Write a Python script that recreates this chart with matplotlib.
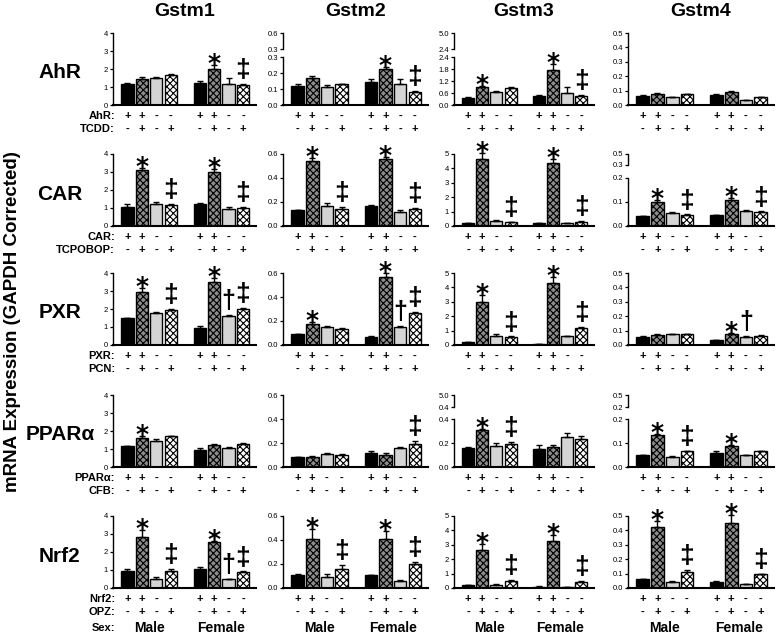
import matplotlib
matplotlib.use('Agg')
import matplotlib.pyplot as plt

plt.rcParams['font.family'] = ['Liberation Sans', 'DejaVu Sans']
plt.rcParams['hatch.linewidth'] = 0.8

genes = ['Gstm1', 'Gstm2', 'Gstm3', 'Gstm4']
receptors = ['AhR', 'CAR', 'PXR', 'PPARα', 'Nrf2']
drugs = ['TCDD:', 'TCPOBOP:', 'PCN:', 'CFB:', 'OPZ:']
receptor_signs = ['+', '+', '-', '-', '+', '+', '-', '-']
drug_signs = ['-', '+', '-', '+', '-', '+', '-', '+']
sexes = ['Male', 'Female']

# means, one list per gene (Male x4, Female x4)
ahr_mean = [[1.15, 1.45, 1.50, 1.65, 1.22, 2.02, 1.18, 1.10],
            [0.12, 0.17, 0.11, 0.13, 0.145, 0.225, 0.13, 0.08],
            [0.33, 0.90, 0.65, 0.85, 0.45, 1.75, 0.60, 0.45],
            [0.065, 0.078, 0.055, 0.073, 0.070, 0.088, 0.035, 0.055]]
ahr_err = [[0.05, 0.08, 0.08, 0.10, 0.10, 0.20, 0.33, 0.08],
           [0.012, 0.01, 0.012, 0.004, 0.015, 0.01, 0.033, 0.006],
           [0.05, 0.06, 0.04, 0.03, 0.05, 0.32, 0.30, 0.06],
           [0.002, 0.004, 0.004, 0.004, 0.003, 0.008, 0.003, 0.003]]
car_mean = [[1.08, 3.10, 1.20, 1.15, 1.25, 3.00, 0.95, 1.00],
            [0.13, 0.545, 0.17, 0.145, 0.165, 0.555, 0.12, 0.14],
            [0.18, 4.65, 0.38, 0.25, 0.22, 4.35, 0.18, 0.30],
            [0.040, 0.100, 0.055, 0.045, 0.045, 0.110, 0.063, 0.058]]
car_err = [[0.12, 0.15, 0.12, 0.08, 0.03, 0.18, 0.12, 0.06],
           [0.005, 0.02, 0.025, 0.013, 0.01, 0.022, 0.012, 0.01],
           [0.02, 0.45, 0.04, 0.04, 0.02, 0.30, 0.02, 0.04],
           [0.002, 0.008, 0.003, 0.003, 0.002, 0.008, 0.004, 0.003]]
pxr_mean = [[1.48, 2.95, 1.80, 1.95, 0.95, 3.48, 1.60, 2.00],
            [0.09, 0.175, 0.15, 0.13, 0.07, 0.57, 0.15, 0.27],
            [0.18, 3.00, 0.65, 0.55, 0.08, 4.30, 0.60, 1.20],
            [0.057, 0.070, 0.075, 0.075, 0.035, 0.077, 0.058, 0.065]]
pxr_err = [[0.03, 0.20, 0.03, 0.07, 0.10, 0.25, 0.08, 0.05],
           [0.005, 0.02, 0.008, 0.008, 0.005, 0.03, 0.01, 0.007],
           [0.02, 0.45, 0.12, 0.05, 0.01, 0.45, 0.03, 0.06],
           [0.003, 0.003, 0.002, 0.002, 0.003, 0.005, 0.005, 0.003]]
ppar_mean = [[1.15, 1.60, 1.45, 1.72, 0.97, 1.20, 1.08, 1.28],
             [0.08, 0.085, 0.11, 0.10, 0.115, 0.10, 0.155, 0.195],
             [0.16, 0.305, 0.175, 0.19, 0.15, 0.17, 0.25, 0.235],
             [0.048, 0.133, 0.042, 0.065, 0.060, 0.088, 0.050, 0.065]]
ppar_err = [[0.03, 0.10, 0.12, 0.02, 0.07, 0.10, 0.03, 0.08],
            [0.005, 0.004, 0.007, 0.012, 0.015, 0.015, 0.01, 0.02],
            [0.01, 0.012, 0.025, 0.02, 0.035, 0.015, 0.035, 0.025],
            [0.003, 0.005, 0.002, 0.003, 0.007, 0.005, 0.002, 0.002]]
nrf2_mean = [[0.97, 2.85, 0.52, 0.95, 1.05, 2.58, 0.48, 0.88],
             [0.11, 0.41, 0.095, 0.16, 0.105, 0.405, 0.06, 0.20],
             [0.18, 2.65, 0.20, 0.50, 0.10, 3.28, 0.05, 0.42],
             [0.060, 0.425, 0.043, 0.110, 0.045, 0.450, 0.028, 0.095]]
nrf2_err = [[0.10, 0.35, 0.08, 0.12, 0.10, 0.04, 0.03, 0.05],
            [0.01, 0.08, 0.018, 0.03, 0.005, 0.07, 0.003, 0.015],
            [0.02, 0.40, 0.05, 0.08, 0.01, 0.40, 0.01, 0.08],
            [0.003, 0.040, 0.007, 0.018, 0.003, 0.060, 0.003, 0.005]]

# significance marks: (bar index, symbol)
ahr_sig = [[(5, '*'), (7, '‡')], [(5, '*'), (7, '‡')],
           [(1, '*'), (5, '*'), (7, '‡')], []]
car_sig = [[(1, '*'), (3, '‡'), (5, '*'), (7, '‡')]] * 4
pxr_sig = [[(1, '*'), (3, '‡'), (5, '*'), (6, '†'), (7, '‡')],
           [(1, '*'), (5, '*'), (6, '†'), (7, '‡')],
           [(1, '*'), (3, '‡'), (5, '*'), (7, '‡')],
           [(5, '*'), (6, '†')]]
ppar_sig = [[(1, '*')], [(7, '‡')], [(1, '*'), (3, '‡')],
            [(1, '*'), (3, '‡'), (5, '*')]]
nrf2_sig = [[(1, '*'), (3, '‡'), (5, '*'), (6, '†'), (7, '‡')],
            [(1, '*'), (3, '‡'), (5, '*'), (7, '‡')],
            [(1, '*'), (3, '‡'), (5, '*'), (7, '‡')],
            [(1, '*'), (3, '‡'), (5, '*'), (7, '‡')]]

means = [ahr_mean, car_mean, pxr_mean, ppar_mean, nrf2_mean]
errs = [ahr_err, car_err, pxr_err, ppar_err, nrf2_err]
sigs = [ahr_sig, car_sig, pxr_sig, ppar_sig, nrf2_sig]

# y axes per gene
col_ylim = [4, 0.6, 5, 0.5]
col_ticks = [[0, 1, 2, 3, 4], [0, 0.2, 0.4, 0.6], [0, 1, 2, 3, 4, 5],
             [0, 0.1, 0.2, 0.3, 0.4, 0.5]]
col_fmt = ['%d', '%.1f', '%d', '%.1f']
# broken axes: (row, col) -> (lower ticks, upper labels, upper height px)
breaks = {(0, 1): ([0, 0.1, 0.2, 0.3], ['0.3', '0.6'], 16),
          (0, 2): ([0, 0.6, 1.2, 1.8, 2.4], ['2.4', '5.0'], 16),
          (1, 3): ([0, 0.1, 0.2], ['0.3', '0.5'], 11),
          (3, 2): ([0, 0.2, 0.4], ['0.4', '5.0'], 12),
          (3, 3): ([0, 0.1, 0.2], ['0.2', '0.5'], 12)}

W, H = 776, 634
fig = plt.figure(figsize=(W / 100, H / 100), dpi=100)

col_x = [113, 283, 454, 628]
col_w = [143, 145, 140, 146]
row_top = [33, 154, 273, 395, 516]
ax_h = 72
xpos = [0, 1, 2, 3, 5, 6, 7, 8]
bar_style = [dict(facecolor='black'),
             dict(facecolor='#8c8c8c', hatch='xxxxx'),
             dict(facecolor='#d4d4d4'),
             dict(facecolor='white', hatch='xxxxx')]


def add_ax(x0, top, w, h):
    return fig.add_axes([x0 / W, 1 - (top + h) / H, w / W, h / H])


def style_axis(ax):
    for s in ['top', 'right']:
        ax.spines[s].set_visible(False)
    ax.spines['left'].set_linewidth(1.0)
    ax.spines['bottom'].set_linewidth(1.5)
    ax.tick_params(axis='y', direction='out', length=2.5, width=0.9,
                   labelsize=5.5, pad=1)
    ax.set_xticks([])


def mark(ax, x, y, sym):
    if sym == '*':
        ax.annotate(sym, xy=(x, y), xytext=(0, 4 * 0.72 - 0.40 * 18),
                    textcoords='offset points', ha='center', va='baseline',
                    fontsize=18, family='DejaVu Sans', fontweight='bold',
                    annotation_clip=False)
    else:
        size = 19 if sym == '‡' else 18
        ax.annotate(sym, xy=(x, y), xytext=(0, 2 * 0.72 + 0.18 * size),
                    textcoords='offset points', ha='center', va='baseline',
                    fontsize=size, fontweight='bold', annotation_clip=False)


for r in range(5):
    base = row_top[r] + ax_h
    for c in range(4):
        if (r, c) in breaks:
            lticks, ulabels, uh = breaks[(r, c)]
            ax = add_ax(col_x[c], base - 48, col_w[c], 48)
            ax.set_ylim(0, lticks[-1])
            ax.set_yticks(lticks)
            ax.set_yticklabels(['%.1f' % t for t in lticks])
            up = add_ax(col_x[c], row_top[r], col_w[c], uh)
            up.set_ylim(0, 1)
            up.set_yticks([0, 1])
            up.set_yticklabels(ulabels)
            up.set_xticks([])
            for s in ['top', 'right', 'bottom']:
                up.spines[s].set_visible(False)
            up.spines['left'].set_linewidth(1.0)
            up.tick_params(axis='y', direction='out', length=2.5, width=0.9,
                           labelsize=5.5, pad=1)
            up.patch.set_visible(False)
        else:
            ax = add_ax(col_x[c], row_top[r], col_w[c], ax_h)
            ax.set_ylim(0, col_ylim[c])
            ax.set_yticks(col_ticks[c])
            ax.set_yticklabels([col_fmt[c] % t for t in col_ticks[c]])
        ax.set_xlim(-1.0, 8.9)
        style_axis(ax)
        m = means[r][c]
        e = errs[r][c]
        for i in range(8):
            ax.bar(xpos[i], m[i], width=0.85, edgecolor='black',
                   linewidth=1.0, zorder=2, **bar_style[i % 4])
        eb = ax.errorbar(xpos, m, yerr=[[0] * 8, e], fmt='none', ecolor='black',
                         elinewidth=1.0, capsize=2.5, capthick=1.0, zorder=3)
        for art in eb.lines[1] + eb.lines[2]:
            art.set_clip_on(False)
        for i, sym in sigs[r][c]:
            mark(ax, xpos[i], m[i] + e[i], sym)
        # +/- rows under bars
        for i in range(8):
            ax.annotate(receptor_signs[i], xy=(xpos[i], 0),
                        xycoords=('data', 'axes fraction'),
                        xytext=(0, -11 * 0.72), textcoords='offset points',
                        ha='center', va='center', fontsize=8, fontweight='bold')
            ax.annotate(drug_signs[i], xy=(xpos[i], 0),
                        xycoords=('data', 'axes fraction'),
                        xytext=(0, -24 * 0.72), textcoords='offset points',
                        ha='center', va='center', fontsize=8, fontweight='bold')
        if r == 4:
            for g, sx in enumerate(sexes):
                ax.annotate(sx, xy=(1.5 + 5 * g, 0),
                            xycoords=('data', 'axes fraction'),
                            xytext=(0, -40 * 0.72), textcoords='offset points',
                            ha='center', va='center', fontsize=10,
                            fontweight='bold')
    # row labels
    fig.text(60 / W, 1 - (row_top[r] + 40) / H, receptors[r], fontsize=15,
             fontweight='bold', ha='center', va='center')
    fig.text(115 / W, 1 - (base + 11) / H, receptors[r] + ':', fontsize=8,
             fontweight='bold', ha='right', va='center')
    fig.text(115 / W, 1 - (base + 24) / H, drugs[r], fontsize=8,
             fontweight='bold', ha='right', va='center')

fig.text(115 / W, 1 - (row_top[4] + ax_h + 40) / H, 'Sex:', fontsize=8,
         fontweight='bold', ha='right', va='center')

for c in range(4):
    fig.text((col_x[c] + col_w[c] / 2) / W, 1 - 12 / H, genes[c],
             fontsize=14, fontweight='bold', ha='center', va='center')

fig.text(13 / W, 1 - 322 / H, 'mRNA Expression (GAPDH Corrected)',
         rotation=90, fontsize=13.5, fontweight='bold', ha='center', va='center')

fig.savefig('out.png', dpi=100)
